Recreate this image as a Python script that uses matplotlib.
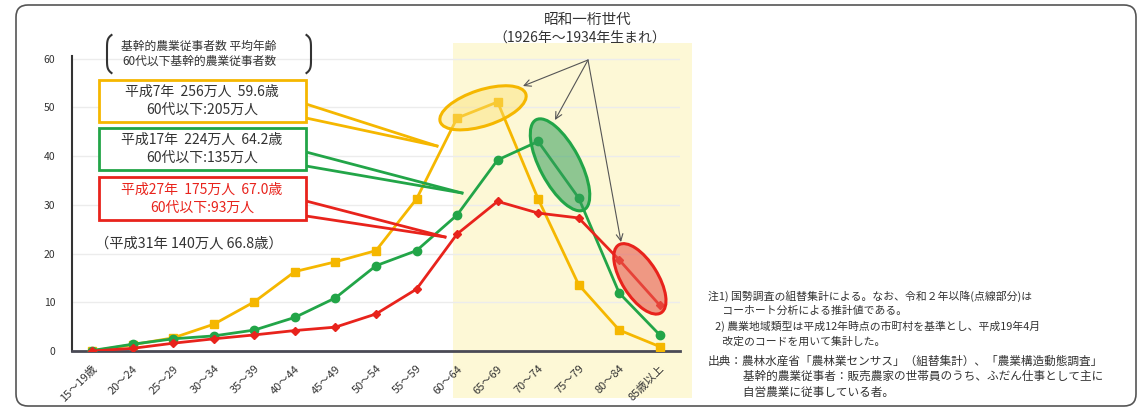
import numpy as np
import matplotlib.pyplot as plt
from matplotlib.patches import Ellipse, Rectangle, FancyBboxPatch
from matplotlib.transforms import ScaledTranslation, blended_transform_factory

plt.rcParams['font.family'] = ['Noto Sans CJK JP', 'DejaVu Sans']

ages = ["15～19歳", "20～24", "25～29", "30～34", "35～39", "40～44", "45～49",
        "50～54", "55～59", "60～64", "65～69", "70～74", "75～79", "80～84", "85歳以上"]
# 基幹的農業従事者数（万人）
h07 = [0.0, 1.3, 2.7, 5.5, 10.1, 16.3, 18.3, 20.6, 31.2, 47.8, 51.1, 31.2, 13.6, 4.3, 0.9]
h17 = [0.1, 1.4, 2.5, 3.1, 4.3, 6.9, 10.9, 17.5, 20.6, 27.9, 39.2, 43.0, 31.4, 11.9, 3.3]
h27 = [0.0, 0.55, 1.6, 2.5, 3.3, 4.2, 4.9, 7.6, 12.7, 24.0, 30.7, 28.3, 27.3, 18.7, 9.4]
yticks = [0, 10, 20, 30, 40, 50, 60]

box_lines = {
    "h07": ("平成7年  256万人  59.6歳", "60代以下:205万人"),
    "h17": ("平成17年  224万人  64.2歳", "60代以下:135万人"),
    "h27": ("平成27年  175万人  67.0歳", "60代以下:93万人"),
}
notes = [
    "注1) 国勢調査の組替集計による。なお、令和２年以降(点線部分)は",
    "      コーホート分析による推計値である。",
    "   2) 農業地域類型は平成12年時点の市町村を基準とし、平成19年4月",
    "      改定のコードを用いて集計した。",
]
source = [
    "出典：農林水産省「農林業センサス」（組替集計）、「農業構造動態調査」",
    "　　　基幹的農業従事者：販売農家の世帯員のうち、ふだん仕事として主に",
    "　　　自営農業に従事している者。",
]

YEL = "#f5b700"
GRN = "#22a548"
RED = "#e8231c"
W, H = 1145, 408

fig = plt.figure(figsize=(W / 100, H / 100), dpi=100)
ax = fig.add_axes([72 / W, 1 - 351 / H, 608 / W, 308 / H])
ax.set_facecolor("none")
x = np.arange(len(ages))
ax.set_xlim(-0.5, 14.5)
ax.set_ylim(0, 63.2)

# 昭和一桁世代のゾーン
shade = Rectangle((8.9, 0.025), 5.9, 0.87, facecolor="#fdf8d6", edgecolor="none",
                  transform=blended_transform_factory(ax.transData, fig.transFigure),
                  clip_on=False, zorder=0)
ax.add_patch(shade)

for v in yticks[1:]:
    ax.axhline(v, color="#ececec", lw=1, zorder=0.5)

ax.plot(x, h07, color=YEL, lw=2, marker="s", ms=6, zorder=3)
ax.plot(x, h17, color=GRN, lw=2, marker="o", ms=6, zorder=3)
ax.plot(x, h27, color=RED, lw=2, marker="D", ms=4.5, zorder=3)

for s in ("top", "right"):
    ax.spines[s].set_visible(False)
ax.spines["left"].set_bounds(0, 60.5)
ax.spines["left"].set_color("#333333")
ax.spines["left"].set_linewidth(1.5)
ax.spines["bottom"].set_color("#4a4a55")
ax.spines["bottom"].set_linewidth(2)
ax.set_yticks(yticks)
ax.set_yticklabels([str(v) for v in yticks], fontsize=7.5, color="#333333")
ax.tick_params(axis="y", length=0, pad=12)
ax.set_xticks(x)
ax.set_xticklabels(ages, rotation=45, ha="right", va="top", rotation_mode="anchor",
                   fontsize=8, color="#333333")
ax.tick_params(axis="x", length=0, pad=9)

# 世代を囲む楕円（中心はデータ座標、大きさはインチ）
def ring(cx, cy, w, h, ang, fc, ec):
    tr = fig.dpi_scale_trans + ScaledTranslation(cx, cy, ax.transData)
    ax.add_patch(Ellipse((0, 0), w, h, angle=ang, facecolor=fc, edgecolor=ec,
                         lw=2.2, transform=tr, zorder=4, clip_on=False))

ring(9.64, 49.9, 0.90, 0.36, 18, (0.99, 0.88, 0.45, 0.45), YEL)
ring(11.54, 38.2, 1.02, 0.40, -62, (0.20, 0.62, 0.35, 0.55), GRN)
ring(13.51, 14.8, 0.80, 0.36, -58, (0.90, 0.35, 0.30, 0.60), RED)

# 注釈用のピクセル座標レイヤー
ov = fig.add_axes([0, 0, 1, 1], zorder=5)
ov.set_xlim(0, W)
ov.set_ylim(H, 0)
ov.axis("off")
ov.patch.set_alpha(0)

ov.add_patch(FancyBboxPatch((16, 5), 1120, 401, boxstyle="round,pad=0,rounding_size=12",
                            facecolor="none", edgecolor="#555555", lw=1.2))

ov.text(588, 20, "昭和一桁世代", ha="center", va="center", fontsize=10.5, color="#333333")
ov.text(580, 38, "（1926年～1934年生まれ）", ha="center", va="center", fontsize=10,
        color="#333333")
for tx, ty in [(523, 86), (555, 120), (621, 242)]:
    ov.annotate("", xy=(tx, ty), xytext=(588, 60),
                arrowprops=dict(arrowstyle="->", color="#555555", lw=0.8,
                                mutation_scale=12, shrinkA=0, shrinkB=0))

# 凡例の見出し
ov.text(199, 46, "基幹的農業従事者数 平均年齢", ha="center", va="center", fontsize=8.5,
        color="#333333")
ov.text(199, 61, "60代以下基幹的農業従事者数", ha="center", va="center", fontsize=8.5,
        color="#333333")
t = np.linspace(-1, 1, 30)
by = 54 + 19 * t
bx = 4.5 * (t ** 6)
ov.plot(107 + bx, by, color="#333333", lw=1.5)
ov.plot(311 - bx, by, color="#333333", lw=1.5)

boxes = [("h07", YEL, "#333333", 80, 122, (437, 146)),
         ("h17", GRN, "#333333", 128, 170, (462, 193)),
         ("h27", RED, RED, 177, 220, (445, 237))]
for key, ec, tc, y0, y1, tip in boxes:
    ov.add_patch(Rectangle((99, y0), 207, y1 - y0, facecolor="white", edgecolor=ec, lw=2,
                           zorder=2))
    l1, l2 = box_lines[key]
    ym = (y0 + y1) / 2
    ov.text(202, ym - 9, l1, ha="center", va="center", fontsize=10, color=tc, zorder=3)
    ov.text(202, ym + 9, l2, ha="center", va="center", fontsize=10, color=tc, zorder=3)
    ov.plot([306, tip[0]], [y0 + 24, tip[1]], color=ec, lw=2, zorder=1)
    ov.plot([306, tip[0]], [y1 - 4, tip[1]], color=ec, lw=2, zorder=1)

ov.text(95, 243, "（平成31年 140万人 66.8歳）", ha="left", va="center", fontsize=10.3,
        color="#333333")

for i, line in enumerate(notes):
    ov.text(708, 296 + 15.3 * i, line, ha="left", va="center", fontsize=7.8, color="#333333")
for i, line in enumerate(source):
    ov.text(708, 361 + 15.5 * i, line, ha="left", va="center", fontsize=8.4, color="#333333")

fig.savefig("out.png", dpi=100)
